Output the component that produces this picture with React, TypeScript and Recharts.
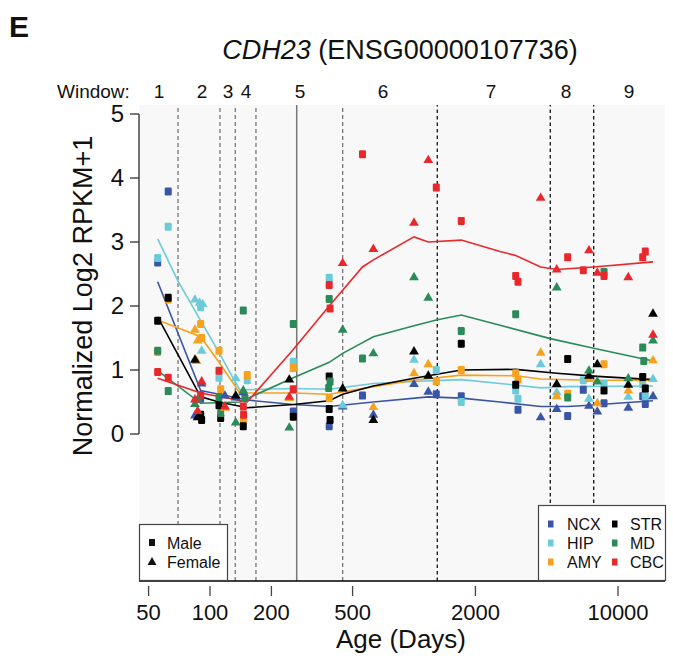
import React from 'react';
import { ComposedChart, Scatter, Line, XAxis, YAxis, ReferenceLine, CartesianGrid } from 'recharts';

const FONT = '"Liberation Sans", Arial, Helvetica, sans-serif';

type Pt = { age: number; value: number };
const toPts = (a: number[][]): Pt[] => a.map(([age, value]) => ({ age, value }));

// ---- data (age in days, normalized log2 RPKM+1) ----
const ncxMale = toPts([[55.4,2.68],[62.4,3.79],[90,0.55],[256,0.35],[384,0.12],[559,0.60],[1286,0.62],[1705,0.59],[3234,0.38],[5667,0.28],[6758,0.69],[8539,0.48],[13215,0.59],[13610,0.47]]);
const ncxFemale = toPts([[84.4,0.30],[91,0.80],[118.4,0.61],[133.7,0.58],[145.6,0.66],[447,0.44],[632,0.31],[1000,0.79],[1175,0.67],[4178,0.27],[5006,0.40],[7206,0.45],[7916,0.36],[11230,0.42],[14845,0.60]]);
const hipMale = toPts([[55.4,2.75],[62.4,3.24],[90,1.98],[110.7,0.88],[152.3,0.84],[256,1.13],[384,2.44],[1286,1.00],[1705,0.50],[3151,0.68],[3234,0.55],[6758,0.84],[8539,0.78],[13215,0.78],[13610,0.59]]);
const hipFemale = toPts([[84.4,2.11],[89,2.06],[92.1,2.04],[91,1.31],[133.7,0.88],[447,0.46],[1000,1.17],[4178,1.10],[5006,0.66],[7206,0.56],[11230,0.59],[14845,0.87]]);
const amyMale = toPts([[55.4,1.28],[62.4,2.10],[90,1.72],[91,1.50],[110.7,1.30],[112.8,0.70],[145.6,0.22],[152.3,0.92],[256,1.03],[384,0.56],[1286,0.82],[1705,1.00],[3151,0.95],[3234,0.85],[5667,0.63],[8539,1.09],[13215,0.87]]);
const amyFemale = toPts([[84.4,1.64],[87,1.47],[85.9,1.15],[118.4,0.42],[244.7,0.57],[632,0.43],[1000,0.96],[1175,1.10],[4178,1.28],[5006,0.60],[7206,0.87],[7916,0.49],[11230,0.69],[14845,1.16]]);
const strMale = toPts([[55.4,1.77],[62.4,2.13],[90,0.30],[91,0.22],[110.7,0.45],[112.8,0.25],[145.6,0.12],[256,0.27],[384,0.90],[384,0.39],[387.8,0.22],[1705,1.41],[3151,0.77],[5667,1.17],[8539,0.68],[13215,0.89],[13610,0.71]]);
const strFemale = toPts([[84.4,1.17],[87,0.27],[133.7,0.61],[244.7,0.86],[447,0.72],[632,0.23],[1000,1.30],[1175,0.92],[5006,0.79],[7206,0.92],[7916,1.10],[11230,0.78],[14845,1.89]]);
const mdMale = toPts([[55.4,1.30],[62.4,0.67],[110.7,0.58],[112.8,0.33],[145.6,1.93],[148.3,0.56],[256,1.72],[384,2.11],[387.8,0.82],[381.7,0.72],[559,1.18],[1705,1.61],[3151,1.87],[5667,0.57],[8539,2.53],[13215,1.35],[13377,1.14]]);
const mdFemale = toPts([[84.4,0.48],[87,0.55],[133.7,0.19],[145.6,0.69],[244.7,0.11],[447,1.64],[632,1.27],[1000,2.46],[1175,2.14],[5006,2.30],[7206,1.00],[7916,0.83],[11230,0.88],[14845,1.47]]);
const cbcMale = toPts([[55.4,0.97],[62.4,0.88],[90,0.61],[110.7,0.99],[145.6,0.43],[146.1,0.30],[256,0.70],[384,2.33],[387.8,1.96],[559,4.37],[1286,3.85],[1705,3.33],[3151,2.47],[3234,2.38],[5667,2.76],[6758,2.56],[8539,2.47],[13215,2.76],[13610,2.85]]);
const cbcFemale = toPts([[84.4,0.55],[87,0.37],[91,0.83],[118.4,0.44],[244.7,0.59],[447,2.68],[632,2.90],[1000,3.31],[1175,4.29],[4178,3.70],[5006,2.58],[7206,2.88],[7916,2.53],[11230,2.46],[14845,1.56]]);

const ncxFit = toPts([[55.4,2.38],[90,0.68],[110.7,0.62],[152.3,0.53],[256,0.46],[384,0.43],[632,0.50],[1175,0.58],[1705,0.56],[2640,0.50],[4178,0.43],[5667,0.43],[7206,0.45],[14845,0.52]]);
const hipFit = toPts([[55.4,3.05],[69.4,2.40],[90,1.77],[110.7,1.27],[139.8,0.69],[256,0.71],[384,0.70],[632,0.79],[1000,0.82],[1705,0.85],[2640,0.79],[4178,0.72],[5667,0.74],[14845,0.75]]);
const amyFit = toPts([[55.4,1.78],[90,1.52],[110.7,1.12],[139.8,0.64],[256,0.64],[384,0.62],[632,0.74],[1000,0.84],[1705,0.92],[3151,0.91],[4178,0.86],[7206,0.84],[14845,0.84]]);
const strFit = toPts([[55.4,1.83],[90,0.58],[110.7,0.50],[152.3,0.41],[256,0.46],[384,0.52],[447,0.62],[632,0.75],[1000,0.87],[1705,1.00],[3151,1.01],[5006,0.95],[7916,0.90],[14845,0.85]]);
const mdFit = toPts([[55.4,0.99],[90,0.48],[139.8,0.50],[256,0.88],[384,1.12],[447,1.26],[632,1.52],[1000,1.69],[1286,1.78],[1705,1.86],[2640,1.70],[4656,1.49],[7600,1.34],[14845,1.14]]);
const cbcFit = toPts([[55.4,0.87],[90,0.64],[152.3,0.50],[256,1.32],[384,2.00],[559,2.61],[632,2.72],[1000,3.08],[1175,3.00],[1705,3.03],[2640,2.85],[3151,2.79],[4178,2.61],[5006,2.57],[7600,2.61],[14845,2.69]]);

const xTicks = [50, 100, 200, 500, 2000, 10000];
const yTicks = [0, 1, 2, 3, 4, 5];
const windowCenters = [56.2, 91.4, 122.5, 150.1, 276.1, 704.8, 2384.6, 5560, 11320];
const windowLabels = ['1', '2', '3', '4', '5', '6', '7', '8', '9'];
const windowBounds = [69.7, 111.9, 133.0, 168.0, 266.1, 447.1, 1300.6, 4656, 7600];
const windowBoundStyle = ['dot', 'dot', 'dot', 'dot', 'solid', 'dot', 'dash', 'dash', 'dash'];

const X_DOMAIN: [number, number] = [44.87, 16996];
const Y_DOMAIN: [number, number] = [-2.2969, 5.1406];

const COLORS = {
  NCX: '#3a55a5',
  HIP: '#6ccbd9',
  AMY: '#f6a21e',
  STR: '#000000',
  MD: '#2a8b58',
  CBC: '#e8282b',
};

const regions = [
  { name: 'NCX', color: COLORS.NCX, male: ncxMale, female: ncxFemale, fit: ncxFit },
  { name: 'HIP', color: COLORS.HIP, male: hipMale, female: hipFemale, fit: hipFit },
  { name: 'AMY', color: COLORS.AMY, male: amyMale, female: amyFemale, fit: amyFit },
  { name: 'STR', color: COLORS.STR, male: strMale, female: strFemale, fit: strFit },
  { name: 'MD', color: COLORS.MD, male: mdMale, female: mdFemale, fit: mdFit },
  { name: 'CBC', color: COLORS.CBC, male: cbcMale, female: cbcFemale, fit: cbcFit },
];

const squareShape = (color: string) => (props: any) => {
  const { cx, cy } = props;
  if (cx == null || cy == null) return <g />;
  return <rect x={cx - 3.5} y={cy - 4} width={7} height={8} rx={1.2} fill={color} />;
};
const triShape = (color: string) => (props: any) => {
  const { cx, cy } = props;
  if (cx == null || cy == null) return <g />;
  return <path d={`M${cx},${cy - 4.8} L${cx + 4.9},${cy + 3.6} L${cx - 4.9},${cy + 3.6} Z`} fill={color} />;
};

const XTick = (props: any) => {
  const { x, y, payload } = props;
  return (
    <g>
      <line x1={x} x2={x} y1={y + 5} y2={y + 15} stroke="#444" strokeWidth={1.3} />
      <text x={x} y={y + 39} textAnchor="middle" fontFamily={FONT} fontSize={22} fill="#111">
        {payload.value}
      </text>
    </g>
  );
};
const YTick = (props: any) => {
  const { x, y, payload } = props;
  return (
    <g>
      <line x1={x - 9} x2={x} y1={y} y2={y} stroke="#333" strokeWidth={1.3} />
      <text x={x - 15} y={y + 8.5} textAnchor="end" fontFamily={FONT} fontSize={24} fill="#111">
        {payload.value}
      </text>
    </g>
  );
};
const WinTick = (props: any) => {
  const { x, y, payload, index } = props;
  return (
    <text x={x} y={y - 7} textAnchor="middle" fontFamily={FONT} fontSize={19} fill="#111">
      {windowLabels[index] ?? payload.value}
    </text>
  );
};

export default function App() {
  return (
    <div style={{ position: 'absolute', left: 0, top: 0, width: 673, height: 663, background: '#fff' }}>
      <ComposedChart width={673} height={663} margin={{ top: 75, right: 8, bottom: 22, left: 59 }}>
        <CartesianGrid horizontal={false} vertical={false} fill="#f8f8f8" fillOpacity={1} />
        <XAxis
          xAxisId="main"
          dataKey="age"
          type="number"
          scale="log"
          domain={X_DOMAIN}
          allowDataOverflow
          ticks={xTicks}
          height={60}
          axisLine={{ stroke: '#000', strokeWidth: 1.5 }}
          tickLine={false}
          tickSize={0}
          tickMargin={0}
          tick={<XTick />}
          interval={0}
        />
        <XAxis
          xAxisId="top"
          orientation="top"
          dataKey="age"
          type="number"
          scale="log"
          domain={X_DOMAIN}
          allowDataOverflow
          ticks={windowCenters}
          height={30}
          axisLine={false}
          tickLine={false}
          tickSize={0}
          tickMargin={0}
          tick={<WinTick />}
          interval={0}
        />
        <YAxis
          yAxisId="main"
          dataKey="value"
          type="number"
          domain={Y_DOMAIN}
          allowDataOverflow
          ticks={yTicks}
          width={80}
          axisLine={false}
          tickLine={false}
          tickSize={0}
          tickMargin={0}
          tick={<YTick />}
          interval={0}
        />
        <ReferenceLine
          xAxisId="main"
          yAxisId="main"
          segment={[{ x: X_DOMAIN[0], y: 0 }, { x: X_DOMAIN[0], y: 5 }]}
          stroke="#444"
          strokeWidth={1.5}
          ifOverflow="visible"
        />
        {windowBounds.map((b, i) => {
          const st = windowBoundStyle[i];
          return (
            <ReferenceLine
              key={'wb' + i}
              xAxisId="main"
              yAxisId="main"
              x={b}
              stroke={st === 'dash' ? '#111' : '#777'}
              strokeWidth={st === 'solid' ? 1.5 : 1.3}
              strokeDasharray={st === 'solid' ? undefined : st === 'dash' ? '3.5 3' : '4 3'}
            />
          );
        })}
        {regions.map((r) => (
          <Scatter
            key={r.name + 'm'}
            xAxisId="main"
            yAxisId="main"
            data={r.male}
            dataKey="value"
            shape={squareShape(r.color)}
            isAnimationActive={false}
          />
        ))}
        {regions.map((r) => (
          <Scatter
            key={r.name + 'f'}
            xAxisId="main"
            yAxisId="main"
            data={r.female}
            dataKey="value"
            shape={triShape(r.color)}
            isAnimationActive={false}
          />
        ))}
        {regions.map((r) => (
          <Line
            key={r.name + 'l'}
            xAxisId="main"
            yAxisId="main"
            data={r.fit}
            dataKey="value"
            type="linear"
            stroke={r.color}
            strokeWidth={1.6}
            dot={false}
            activeDot={false}
            isAnimationActive={false}
          />
        ))}
      </ComposedChart>
      <svg width={673} height={663} style={{ position: 'absolute', left: 0, top: 0, pointerEvents: 'none' }}>
        <text x={9} y={37} fontFamily={FONT} fontSize={30} fontWeight="bold" fill="#111">E</text>
        <text x={400} y={59} textAnchor="middle" fontFamily={FONT} fontSize={27} fill="#111">
          <tspan fontStyle="italic">CDH23</tspan>
          <tspan> (ENSG00000107736)</tspan>
        </text>
        <text x={57} y={98} fontFamily={FONT} fontSize={19} fill="#111">Window:</text>
        <text
          x={92}
          y={296}
          textAnchor="middle"
          fontFamily={FONT}
          fontSize={27}
          fill="#111"
          transform="rotate(-90 92 296)"
        >
          Normalized Log2 RPKM+1
        </text>
        <text x={401} y={648} textAnchor="middle" fontFamily={FONT} fontSize={26} fill="#111">Age (Days)</text>

        {/* sex legend */}
        <rect x={139.5} y={524.5} width={88} height={56} fill="#fff" stroke="#444" strokeWidth={1.2} />
        <rect x={149} y={539} width={6} height={7} fill="#111" />
        <text x={167} y={548.5} fontFamily={FONT} fontSize={16} fill="#111">Male</text>
        <path d="M152,557 L156.5,565 L147.5,565 Z" fill="#111" />
        <text x={167} y={567.5} fontFamily={FONT} fontSize={16} fill="#111">Female</text>

        {/* region legend */}
        <rect x={538.5} y={505.5} width={127} height={75} fill="#fff" stroke="#444" strokeWidth={1.2} />
        {regions.map((r, i) => {
          const col = i < 3 ? 0 : 1;
          const row = i % 3;
          const sx = col === 0 ? 548 : 612;
          const tx = col === 0 ? 567 : 630;
          const yy = [524, 543, 562][row];
          return (
            <g key={'lg' + r.name}>
              <rect x={sx} y={yy - 3.5} width={5.5} height={7} fill={r.color} />
              <text x={tx} y={yy + 6} fontFamily={FONT} fontSize={16} fill="#111">{r.name}</text>
            </g>
          );
        })}
      </svg>
    </div>
  );
}
